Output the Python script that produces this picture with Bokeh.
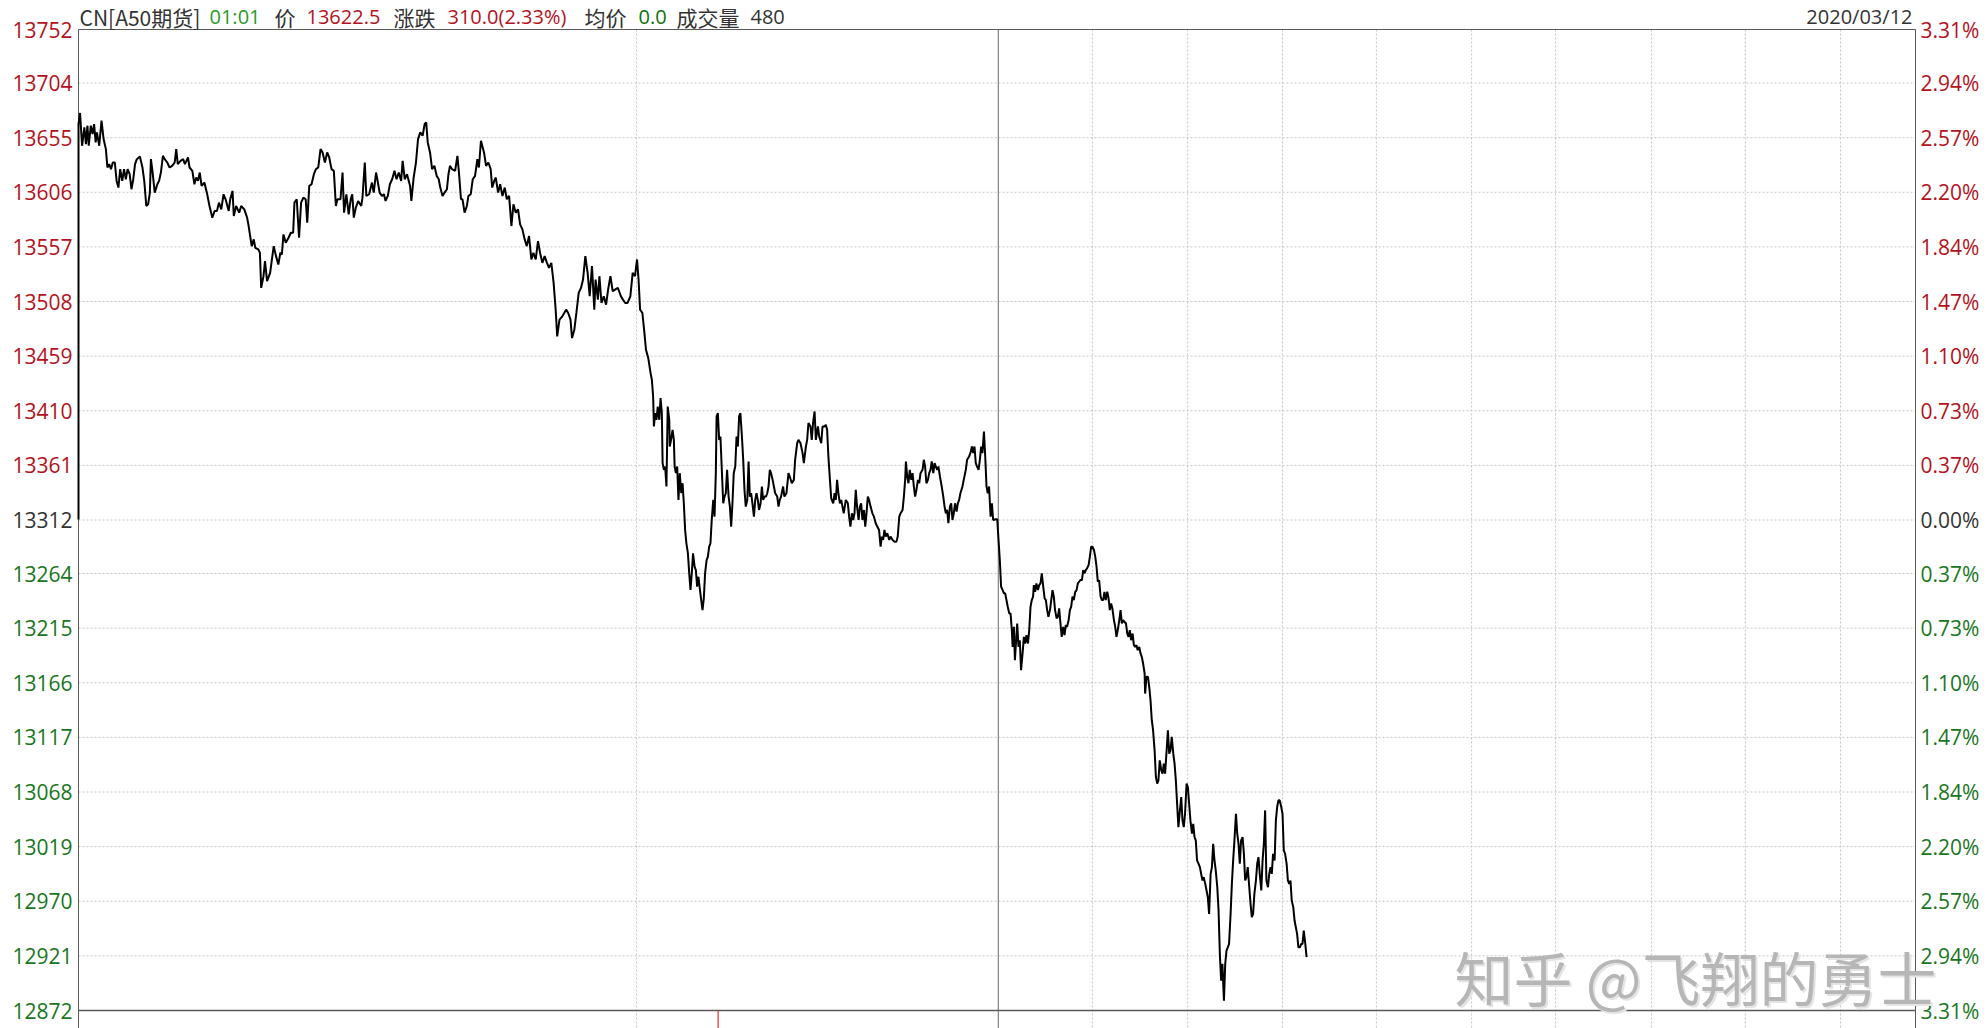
from bokeh.plotting import figure
from bokeh.models import Range1d, Label, LabelSet, ColumnDataSource
from bokeh.embed import file_html
from bokeh.resources import INLINE
from bokeh.core.properties import value

# ---------------- data ----------------
PREV_CLOSE = 13312.5
SESSION_MINUTES = 718          # width of the time axis (minutes)
LEFT_TICKS = [13752, 13704, 13655, 13606, 13557, 13508, 13459, 13410, 13361, 13312,
              13264, 13215, 13166, 13117, 13068, 13019, 12970, 12921, 12872]
RIGHT_LABELS = ["3.31%", "2.94%", "2.57%", "2.20%", "1.84%", "1.47%", "1.10%", "0.73%", "0.37%", "0.00%",
                "0.37%", "0.73%", "1.10%", "1.47%", "1.84%", "2.20%", "2.57%", "2.94%", "3.31%"]
VGRID_DOTTED = [218.1, 396.3, 433.5, 470.6, 507.3, 544.5, 577.3, 614.8, 651.5, 688.7]
VGRID_SOLID = [359.5]
MARKER_MINUTE = 250

TIME_A = [0.0, 0.0, 0.6, 1.4, 2.3, 2.9, 3.5, 4.0, 4.8, 5.5, 6.1,
          6.7, 7.2, 8.1, 9.0, 9.8, 10.7, 11.3, 12.0, 12.7, 13.4,
          14.2, 14.9, 15.6, 16.3, 17.1, 17.8, 18.5, 19.2, 20.0, 20.7,
          21.4, 22.1, 22.8, 24.0, 25.0, 25.7, 26.5, 27.2, 27.9, 28.3,
          28.9, 29.8, 30.8, 31.5, 32.2, 33.0, 33.7, 34.7, 35.6, 36.6,
          37.6, 38.2, 38.8, 39.9, 40.9, 41.6, 42.8, 43.4, 44.5, 45.3,
          46.0, 46.7, 47.4, 48.1, 49.2, 50.3, 51.2, 52.3, 53.2, 54.1,
          54.9, 55.8, 56.7, 57.5, 58.7, 59.3, 60.2, 60.7, 61.6, 62.8,
          63.6, 64.8, 65.9, 66.5, 67.1, 67.7, 68.5, 69.1, 70.3, 70.9,
          71.4, 72.3, 72.9, 73.7, 74.9, 75.6, 76.3, 77.2, 78.1, 78.9,
          79.5, 80.1, 81.0, 82.1, 83.0, 83.9, 84.4, 85.3, 86.2, 87.0,
          87.9, 88.8, 89.4, 90.2, 91.1, 92.0, 92.8, 93.7, 94.6, 95.4,
          96.3, 97.2, 98.0, 98.9, 99.8, 100.6, 101.2, 102.4, 103.2, 103.8,
          104.7, 105.6, 106.4, 107.0, 107.6, 108.4, 109.3, 110.5, 111.0, 111.9,
          112.5, 113.6, 114.7, 115.4, 116.3, 116.8, 117.7, 118.6, 119.4, 120.0,
          120.9, 121.7, 122.6, 123.5, 124.3, 125.2, 126.1, 126.7, 127.5, 128.4,
          129.6, 130.1, 131.0, 131.9, 132.7, 133.6, 134.5, 135.3, 135.9, 136.5,
          137.4, 138.2, 139.1, 140.0, 140.8, 141.4, 142.3, 143.1, 144.0, 144.6,
          145.2, 146.0, 147.2, 148.1, 148.7, 149.5, 150.1, 150.9, 151.8, 152.4,
          153.3, 154.1, 155.0, 155.9, 156.5, 157.3, 158.5, 159.3, 160.2, 161.1,
          161.7, 162.5, 163.1, 164.0, 164.8, 165.7, 166.6, 167.4, 168.3, 169.2,
          170.0, 170.9, 171.8, 172.6, 173.5, 174.4, 175.2, 176.1, 177.0, 177.8,
          178.7, 179.6, 180.4, 181.3, 182.2, 183.1, 183.9, 184.8, 185.7, 186.5,
          187.1, 188.0, 189.1, 190.6, 191.4, 192.3, 192.9, 193.8, 194.6, 195.5,
          196.4, 197.2, 198.1, 199.0, 199.8, 200.7, 201.6, 202.1, 203.0, 203.6,
          204.4, 205.3, 206.2, 207.0, 207.9, 208.8, 209.7, 210.8, 212.0, 212.8,
          213.7, 214.6, 215.7, 216.6, 217.5, 218.3, 218.9, 219.5, 220.4, 221.2,
          221.8, 222.7]
PRICE_A = [13312.5, 13667.2, 13677.1, 13647.7, 13664.2, 13649.2, 13665.7, 13647.7, 13665.7, 13658.2, 13667.2,
           13650.7, 13659.7, 13647.7, 13670.2, 13653.7, 13644.7, 13628.2, 13631.2, 13626.7, 13632.7,
           13632.7, 13616.2, 13610.2, 13626.7, 13616.2, 13626.7, 13617.7, 13626.7, 13622.2, 13608.7,
           13617.7, 13631.2, 13635.7, 13638.1, 13628.2, 13616.2, 13593.7, 13595.2, 13605.7, 13635.7,
           13625.2, 13605.7, 13613.2, 13616.2, 13623.7, 13638.7, 13635.7, 13632.7, 13628.2, 13629.7,
           13632.7, 13644.7, 13631.2, 13634.2, 13635.7, 13631.2, 13637.2, 13628.2, 13625.2, 13613.2,
           13619.2, 13616.2, 13623.7, 13611.7, 13614.7, 13604.2, 13593.7, 13583.2, 13589.2, 13589.2,
           13596.7, 13590.7, 13604.2, 13599.7, 13589.2, 13599.7, 13607.2, 13584.7, 13593.7, 13587.7,
           13593.7, 13590.7, 13583.2, 13575.7, 13566.7, 13557.7, 13563.7, 13556.2, 13554.7, 13551.7,
           13520.2, 13530.7, 13544.2, 13526.2, 13533.7, 13545.7, 13557.7, 13548.7, 13541.2, 13551.7,
           13550.2, 13568.2, 13560.7, 13565.2, 13569.7, 13569.7, 13596.7, 13599.7, 13565.2, 13596.7,
           13601.2, 13599.7, 13578.7, 13611.7, 13613.2, 13622.2, 13626.7, 13628.2, 13644.7, 13641.7,
           13632.7, 13641.7, 13637.2, 13626.7, 13625.2, 13593.7, 13599.7, 13599.7, 13623.7, 13587.7,
           13604.2, 13586.2, 13599.7, 13604.2, 13583.2, 13592.2, 13598.2, 13593.7, 13601.2, 13632.7,
           13602.7, 13604.2, 13614.7, 13605.7, 13623.7, 13617.7, 13605.7, 13602.7, 13604.2, 13598.2,
           13602.7, 13613.2, 13617.7, 13625.2, 13617.7, 13623.7, 13616.2, 13634.2, 13617.7, 13622.2,
           13611.7, 13598.2, 13619.2, 13632.7, 13653.7, 13659.7, 13656.7, 13667.2, 13668.7, 13650.7,
           13641.7, 13626.7, 13629.7, 13620.7, 13617.7, 13610.2, 13602.7, 13605.7, 13608.7, 13622.2,
           13629.7, 13626.7, 13625.2, 13638.7, 13623.7, 13599.7, 13599.7, 13587.7, 13593.7, 13602.7,
           13604.2, 13617.7, 13620.7, 13635.7, 13628.2, 13652.2, 13641.7, 13629.7, 13632.7, 13626.7,
           13610.2, 13616.2, 13619.2, 13605.7, 13613.2, 13602.7, 13610.2, 13599.7, 13602.7, 13575.7,
           13595.2, 13587.7, 13590.7, 13577.2, 13572.7, 13563.7, 13557.7, 13566.7, 13545.7, 13551.7,
           13545.7, 13562.2, 13551.7, 13542.7, 13548.7, 13542.7, 13538.2, 13542.7, 13524.7, 13500.7,
           13476.7, 13491.7, 13494.7, 13500.7, 13497.7, 13491.7, 13475.2, 13482.7, 13497.7, 13515.7,
           13520.2, 13527.7, 13548.7, 13533.7, 13512.7, 13539.7, 13500.7, 13527.7, 13509.7, 13530.7,
           13506.7, 13512.7, 13505.2, 13518.7, 13530.7, 13517.2, 13518.7, 13520.2, 13512.7, 13509.7,
           13506.7, 13506.7, 13512.7, 13533.7, 13530.7, 13545.7, 13527.7, 13500.7, 13497.7, 13479.7,
           13464.7, 13457.2]

TIME_B = [223.6, 224.1, 224.6, 224.9, 225.4, 225.9, 226.4, 227.0, 227.5, 228.0,
          228.3, 228.8, 229.3, 229.8, 230.3, 230.9, 231.1, 231.6, 232.2, 232.7,
          233.0, 233.5, 234.0, 234.5, 235.0, 235.6, 236.1, 236.6, 237.1, 237.6,
          238.2, 238.7, 239.2, 239.7, 240.2, 240.8, 241.3, 241.8, 242.3, 242.9,
          243.4, 243.9, 244.4, 244.9, 245.5, 246.0, 246.5, 247.0, 247.5, 248.1,
          248.6, 249.1, 249.4, 249.9, 250.4, 250.9, 251.5, 252.0, 252.5, 253.0,
          253.5, 254.1, 254.6, 255.1, 255.6, 256.1, 256.7, 257.2, 257.7, 258.2,
          258.7, 259.3, 259.8, 260.3, 260.8, 261.4, 261.9, 262.4, 262.9, 263.4,
          264.0, 264.5, 265.0, 265.5, 266.0, 266.6, 267.1, 267.6, 268.1, 268.7,
          269.2, 269.7, 270.2, 270.7, 271.3, 271.8, 272.3, 273.1, 273.6, 274.1,
          274.6, 275.4, 275.9, 276.7, 277.5, 278.0, 278.8, 279.6, 280.1, 280.9,
          281.4, 282.2, 283.0, 283.5, 284.3, 284.8, 285.3, 286.1, 286.6, 287.1,
          287.7, 288.2, 289.0, 289.5, 290.3, 290.8, 291.6, 292.1, 292.6, 293.1,
          293.7, 294.2, 295.0, 295.5, 296.0, 296.5, 297.0, 297.6, 298.1, 298.6,
          299.1, 299.9, 300.7, 301.2, 301.7, 302.3, 302.8, 303.3, 303.8, 304.3,
          304.9, 305.4, 305.9, 306.4, 307.0, 307.5, 308.0, 308.5, 309.0, 309.6,
          310.3, 310.9, 311.6, 312.2, 312.9, 313.5, 314.0, 314.5, 315.0, 315.5,
          316.1, 316.9, 317.4, 318.2, 318.9, 319.7, 320.2, 320.8, 321.3, 322.1,
          322.6, 323.1, 323.4, 323.9, 324.4, 324.9, 325.5, 326.0, 326.5, 327.0,
          327.5, 328.1, 328.6, 329.1, 329.9, 330.4, 330.9, 331.4, 332.0, 332.5,
          333.0, 333.5, 334.1, 334.6, 335.1, 335.6, 336.1, 336.7, 337.4, 338.0,
          338.5, 339.0, 339.5, 340.0, 340.6, 341.1, 341.6, 342.1, 342.6, 343.2,
          343.7, 344.2, 344.7, 345.5, 346.0, 346.8, 347.3, 348.1, 348.6, 349.2,
          349.7, 350.2, 350.7, 351.2, 351.8, 352.3, 352.8, 353.3, 353.9, 354.4,
          354.9, 355.4, 355.9, 356.5, 357.0, 357.5, 358.5, 359.1, 359.6, 360.1,
          360.6, 361.2, 361.7, 362.2, 362.7, 363.2, 363.8]
PRICE_B = [13443.8, 13437.8, 13422.8, 13395.9, 13407.9, 13401.9, 13413.8, 13401.9, 13421.3, 13407.9,
           13363.0, 13357.0, 13360.0, 13342.0, 13413.8, 13401.9, 13377.9, 13383.9, 13392.9, 13383.9,
           13360.0, 13354.0, 13360.0, 13330.0, 13354.0, 13336.0, 13345.0, 13327.0, 13303.1, 13291.1,
           13282.1, 13264.1, 13249.2, 13264.1, 13282.1, 13270.1, 13267.1, 13252.2, 13261.1, 13249.2,
           13240.2, 13231.2, 13241.7, 13264.1, 13276.1, 13279.1, 13288.1, 13291.1, 13312.0, 13330.0,
           13315.0, 13354.0, 13404.9, 13407.9, 13383.9, 13386.9, 13354.0, 13327.0, 13333.0, 13336.0,
           13357.0, 13333.0, 13324.0, 13306.1, 13327.0, 13354.0, 13360.0, 13386.9, 13377.9, 13404.9,
           13407.9, 13386.9, 13366.0, 13339.0, 13324.0, 13330.0, 13364.5, 13333.0, 13336.0, 13327.0,
           13315.0, 13330.0, 13336.0, 13330.0, 13321.0, 13327.0, 13342.0, 13330.0, 13333.0, 13333.0,
           13336.0, 13342.0, 13357.0, 13354.0, 13348.0, 13342.0, 13336.0, 13333.0, 13324.0, 13330.0,
           13333.0, 13342.0, 13333.0, 13336.0, 13354.0, 13351.0, 13345.0, 13348.0, 13366.0, 13380.9,
           13383.9, 13380.9, 13372.0, 13363.0, 13377.9, 13383.9, 13398.9, 13395.9, 13383.9, 13398.9,
           13409.4, 13383.9, 13395.9, 13386.9, 13380.9, 13395.9, 13395.9, 13397.4, 13392.9, 13369.0,
           13348.0, 13331.5, 13327.0, 13336.0, 13330.0, 13348.0, 13336.0, 13327.0, 13330.0, 13324.0,
           13318.0, 13330.0, 13327.0, 13315.0, 13306.1, 13318.0, 13312.0, 13318.0, 13339.0, 13324.0,
           13312.0, 13324.0, 13327.0, 13312.0, 13321.0, 13306.1, 13318.0, 13333.0, 13330.0, 13324.0,
           13318.0, 13315.0, 13309.1, 13306.1, 13303.1, 13288.1, 13297.1, 13294.1, 13303.1, 13297.1,
           13300.1, 13294.1, 13297.1, 13294.1, 13292.6, 13292.6, 13297.1, 13315.0, 13318.0, 13321.0,
           13333.0, 13348.0, 13364.5, 13351.0, 13345.0, 13357.0, 13348.0, 13354.0, 13342.0, 13333.0,
           13339.0, 13348.0, 13345.0, 13354.0, 13357.0, 13366.0, 13360.0, 13345.0, 13348.0, 13354.0,
           13357.0, 13364.5, 13354.0, 13363.0, 13360.0, 13357.0, 13360.0, 13351.0, 13342.0, 13333.0,
           13324.0, 13318.0, 13321.0, 13309.1, 13324.0, 13327.0, 13312.0, 13318.0, 13327.0, 13319.5,
           13327.0, 13330.0, 13336.0, 13342.0, 13348.0, 13357.0, 13366.0, 13369.0, 13372.0, 13377.9,
           13372.0, 13377.9, 13363.0, 13360.0, 13357.0, 13366.0, 13377.9, 13372.0, 13391.4, 13369.0,
           13342.0, 13336.0, 13342.0, 13315.0, 13327.0, 13312.0, 13312.6, 13312.6, 13294.1, 13276.1,
           13252.2, 13249.2, 13246.2, 13246.2, 13240.2, 13234.2, 13228.2]

TIME_C = [364.3, 364.8, 365.1, 365.6, 366.0, 366.4, 366.9, 367.4, 367.9, 368.4,
          369.0, 369.5, 370.0, 370.5, 371.1, 371.6, 372.1, 372.6, 373.1, 373.4,
          373.9, 374.4, 375.0, 375.5, 376.0, 376.5, 377.0, 377.6, 378.1, 378.6,
          379.1, 379.7, 380.2, 380.7, 381.2, 381.7, 382.3, 382.8, 383.3, 383.8,
          384.3, 384.9, 385.4, 385.9, 386.4, 387.0, 387.5, 388.0, 388.5, 389.0,
          389.6, 390.1, 390.6, 391.1, 391.6, 392.2, 392.7, 393.2, 393.7, 394.2,
          394.8, 395.3, 395.8, 396.3, 396.9, 397.4, 397.9, 398.4, 398.9, 399.5,
          400.0, 400.5, 401.0, 401.5, 402.1, 402.6, 403.1, 403.6, 404.1, 404.7,
          405.2, 405.7, 406.2, 406.8, 407.3, 407.8, 408.3, 408.8, 409.4, 409.9,
          410.4, 410.9, 411.4, 412.0, 412.5, 413.0, 413.5, 414.0, 414.6, 415.1,
          415.6, 416.1, 416.7, 416.9, 417.4, 418.0, 418.5, 419.0, 419.5, 420.0,
          420.6, 421.1, 421.6, 422.1, 422.6, 423.2, 423.7, 424.2, 424.7, 425.3,
          425.8, 426.3, 426.8, 427.3, 427.9, 428.4, 428.9, 429.4, 429.9, 430.5,
          431.0, 431.5, 432.0, 432.5, 433.1, 433.6, 434.1, 434.6, 435.2, 435.7,
          436.2, 436.7, 437.2, 437.8, 438.3, 438.8, 439.3, 439.8, 440.4, 440.9,
          441.4, 441.9, 442.5, 443.0, 443.5, 444.0, 444.5, 445.1, 445.6, 446.1,
          446.6, 447.1, 447.7, 448.2, 448.7, 449.2, 449.7, 450.3, 450.8, 451.3,
          451.8, 452.4, 452.9, 453.4, 453.9, 454.4, 455.0, 455.5, 456.0, 456.5,
          457.0, 457.6, 458.1, 458.6, 459.1, 459.6, 460.2, 460.7, 461.2, 461.7,
          462.3, 462.8, 463.3, 463.8, 464.3, 464.9, 465.4, 465.9, 466.4, 466.9,
          467.5, 468.0, 468.5, 469.0, 469.5, 470.1, 470.6, 471.1, 471.6, 472.2,
          472.7, 473.2, 473.7, 474.2, 474.8, 475.3, 475.8, 476.3, 476.8, 477.4,
          477.9, 478.4, 478.9, 479.5, 480.0]
PRICE_C = [13228.2, 13213.2, 13198.2, 13216.2, 13186.3, 13201.2, 13219.2, 13198.2, 13204.2, 13177.3,
           13192.3, 13207.2, 13201.2, 13208.7, 13201.2, 13213.2, 13234.2, 13240.2, 13243.2, 13253.6,
           13247.6, 13255.1, 13249.1, 13253.6, 13255.1, 13264.1, 13253.6, 13241.7, 13240.2, 13231.2,
           13225.2, 13231.2, 13240.2, 13249.1, 13243.2, 13231.2, 13223.7, 13225.2, 13232.7, 13219.2,
           13207.2, 13216.2, 13208.7, 13217.7, 13216.2, 13222.2, 13231.2, 13234.2, 13243.2, 13240.2,
           13247.6, 13249.1, 13255.1, 13256.6, 13258.1, 13258.1, 13267.1, 13264.1, 13267.1, 13268.6,
           13271.6, 13279.1, 13288.1, 13288.1, 13285.1, 13279.1, 13270.1, 13256.6, 13258.1, 13243.2,
           13240.2, 13240.2, 13247.6, 13240.2, 13247.6, 13241.7, 13231.2, 13237.2, 13232.7, 13222.2,
           13216.2, 13207.2, 13213.2, 13222.2, 13231.2, 13219.2, 13222.2, 13220.7, 13219.2, 13210.2,
           13207.2, 13213.2, 13204.2, 13210.2, 13199.7, 13198.2, 13199.7, 13195.2, 13198.2, 13192.3,
           13189.3, 13183.3, 13174.3, 13156.3, 13171.3, 13171.3, 13162.3, 13150.3, 13132.4, 13123.4,
           13105.4, 13081.5, 13075.5, 13078.5, 13096.4, 13087.5, 13084.4, 13093.4, 13084.4, 13105.4,
           13123.4, 13102.4, 13105.4, 13117.4, 13102.4, 13093.4, 13078.5, 13057.5, 13036.5, 13051.5,
           13063.5, 13042.5, 13036.5, 13048.5, 13075.5, 13072.5, 13057.5, 13042.5, 13030.6, 13039.5,
           13027.5, 13024.6, 13006.6, 13003.6, 13000.6, 12994.6, 12988.6, 12991.6, 12985.6, 12979.7,
           12973.7, 12958.7, 12994.6, 13000.6, 13021.6, 13006.6, 12997.6, 12982.6, 12961.7, 12922.8,
           12898.8, 12913.8, 12880.8, 12913.8, 12925.8, 12928.7, 12931.7, 12958.7, 12985.6, 13006.6,
           13024.6, 13048.5, 13030.6, 13021.6, 13003.6, 13024.6, 13027.5, 13012.6, 12988.6, 12991.6,
           13000.6, 12982.6, 12967.7, 12955.7, 12958.7, 12976.7, 12988.6, 13003.6, 13009.6, 12994.6,
           12979.7, 13006.6, 13021.6, 13051.5, 12988.6, 12982.6, 12994.6, 13000.6, 12994.6, 13012.6,
           13006.6, 13042.5, 13054.5, 13060.5, 13060.5, 13054.5, 13048.5, 13015.6, 13012.6, 13003.6,
           12988.6, 12985.6, 12988.6, 12970.7, 12964.7, 12952.7, 12946.7, 12940.7, 12928.7, 12928.7,
           12931.7, 12931.7, 12943.7, 12931.7, 12919.8]

# ---------------- layout constants ----------------
FRAME_W = 1837                       # px between first and last minute
FRAME_H = 981                        # px between top and bottom tick
PX_PER_MIN = FRAME_W / SESSION_MINUTES
PX_PER_PT = FRAME_H / (LEFT_TICKS[0] - LEFT_TICKS[-1])
FIG_W, FIG_H = 1986, 1028
ORIGIN = 0                           # the page template places the canvas at the top-left corner


def px_x(page_x):
    return (page_x - 78) / PX_PER_MIN


def px_y(page_y):
    return LEFT_TICKS[0] - (page_y - 29) / PX_PER_PT


# the frame fills the whole canvas so that the outer labels are not clipped
x_start, x_end = px_x(ORIGIN), px_x(ORIGIN + FIG_W)
y_end, y_start = px_y(ORIGIN), px_y(ORIGIN + FIG_H)

p = figure(width=FIG_W, height=FIG_H, x_axis_type=None, y_axis_type=None,
           x_range=Range1d(x_start, x_end), y_range=Range1d(y_start, y_end),
           toolbar_location=None, output_backend="svg",
           min_border_left=0, min_border_right=0, min_border_top=0, min_border_bottom=0)
p.outline_line_color = None
p.background_fill_color = "white"
p.border_fill_color = "white"

GRID_COLOR = "#c6c6c6"
top, bottom = LEFT_TICKS[0], LEFT_TICKS[-1]
inner = LEFT_TICKS[1:-1]
# horizontal dotted grid
p.segment(x0=[0] * len(inner), y0=inner, x1=[SESSION_MINUTES] * len(inner), y1=inner,
          line_color=GRID_COLOR, line_dash="2 2", line_width=1)
# vertical dotted grid (continues into the panel below)
p.segment(x0=VGRID_DOTTED, y0=[top] * len(VGRID_DOTTED), x1=VGRID_DOTTED, y1=[y_start] * len(VGRID_DOTTED),
          line_color=GRID_COLOR, line_dash="2 2", line_width=1)
p.segment(x0=VGRID_SOLID, y0=[top] * len(VGRID_SOLID), x1=VGRID_SOLID, y1=[y_start] * len(VGRID_SOLID),
          line_color="#6a6a6a", line_width=1)

EDGE = "#5a5a5a"
p.segment(x0=[0, 0], y0=[top, bottom], x1=[SESSION_MINUTES, SESSION_MINUTES], y1=[top, bottom],
          line_color=EDGE, line_width=[1, 1.6])
p.segment(x0=[0, SESSION_MINUTES], y0=[top, top], x1=[0, SESSION_MINUTES], y1=[y_start, y_start],
          line_color=EDGE, line_width=1)

p.segment(x0=[MARKER_MINUTE], y0=[bottom], x1=[MARKER_MINUTE], y1=[y_start],
          line_color="#e00000", line_width=1)

times = TIME_A + TIME_B + TIME_C
prices = PRICE_A + PRICE_B + PRICE_C
src = ColumnDataSource(dict(t=times, price=prices))
p.line("t", "price", source=src, line_color="black", line_width=2)

# ---------------- axis labels ----------------
RED = "#b3121c"
GREEN = "#19761c"
DARK = "#333333"
mid = len(LEFT_TICKS) // 2
colors = [RED] * mid + [DARK] + [GREEN] * mid
lsrc = ColumnDataSource(dict(x=[px_x(72)] * len(LEFT_TICKS), y=LEFT_TICKS,
                             text=[str(v) for v in LEFT_TICKS], c=colors))
p.add_layout(LabelSet(x="x", y="y", text="text", source=lsrc, text_color="c",
                      text_align="right", text_baseline="middle",
                      text_font=value("Open Sans"), text_font_size="21px"))
rsrc = ColumnDataSource(dict(x=[px_x(1920)] * len(LEFT_TICKS), y=LEFT_TICKS,
                             text=RIGHT_LABELS, c=colors))
p.add_layout(LabelSet(x="x", y="y", text="text", source=rsrc, text_color="c",
                      text_align="left", text_baseline="middle",
                      text_font=value("Open Sans"), text_font_size="21px"))

# ---------------- header ----------------
CJK = "Noto Sans CJK SC"
header = [
    ("CN[A50期货]", 79, DARK, CJK, "21px"),
    ("01:01", 209, "#2a9a2a", "Open Sans", "20px"),
    ("价", 274, DARK, CJK, "21px"),
    ("13622.5", 306, RED, "Open Sans", "20px"),
    ("涨跌", 393, DARK, CJK, "21px"),
    ("310.0(2.33%)", 447, RED, "Open Sans", "20px"),
    ("均价", 584, DARK, CJK, "21px"),
    ("0.0", 638, "#0e6e0e", "Open Sans", "20px"),
    ("成交量", 676, DARK, CJK, "21px"),
    ("480", 750, DARK, "Open Sans", "20px"),
]
for txt, xp, col, fnt, fs in header:
    p.add_layout(Label(x=px_x(xp), y=px_y(16), text=txt, text_color=col, text_font=fnt,
                       text_font_size=fs, text_align="left", text_baseline="middle"))
p.add_layout(Label(x=px_x(1912), y=px_y(16), text="2020/03/12", text_color=DARK,
                   text_font="Open Sans", text_font_size="20px",
                   text_align="right", text_baseline="middle"))

# ---------------- watermark ----------------
WM = "知乎 @飞翔的勇士"
p.add_layout(Label(x=px_x(1456), y=px_y(978), text=WM, text_color="#e4e4e4", text_font=CJK,
                   text_font_size="59px", text_align="left", text_baseline="middle"))
p.add_layout(Label(x=px_x(1454), y=px_y(976), text=WM, text_color="#b6b6b6", text_font=CJK,
                   text_font_size="59px", text_align="left", text_baseline="middle"))

open("out.html", "w").write(file_html(p, INLINE))
